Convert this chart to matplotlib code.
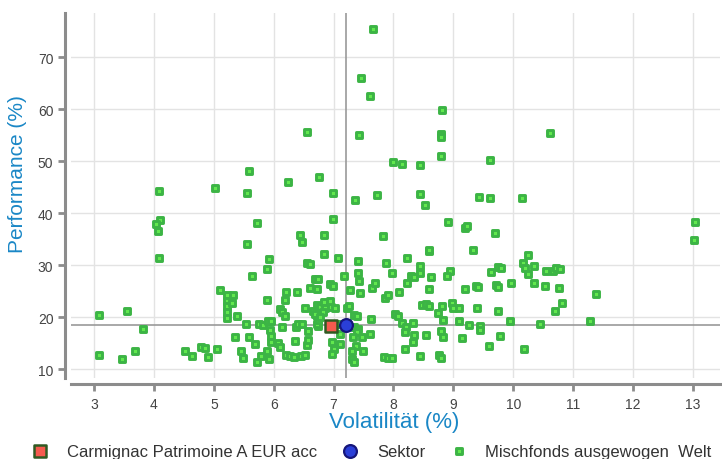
import matplotlib
matplotlib.use("Agg")
import matplotlib.pyplot as plt
import numpy as np

plt.rcParams['font.family'] = ['Liberation Sans', 'DejaVu Sans']

# peer funds (Volatilität %, Performance %)
peer_vol = [
    3.09, 3.55, 3.82, 3.09, 3.46, 3.68,
    4.09, 4.10, 4.04, 4.07, 4.09,
    4.52, 4.63, 4.78, 4.86, 4.90, 5.05, 5.02,
    5.10, 5.22, 5.22, 5.22, 5.22, 5.22, 5.32, 5.30, 5.39, 5.35, 5.46, 5.49,
    5.53, 5.58, 5.59, 5.55, 5.56, 5.64, 5.72,
    5.68, 5.72, 5.79, 5.75, 5.82, 5.88, 5.92, 5.91, 5.95, 5.94, 5.95, 5.96,
    5.89, 5.92, 5.89,
    6.07, 6.10, 6.20, 6.27, 6.34, 6.45, 6.52, 6.36, 6.14, 6.37, 6.41, 6.47,
    6.10, 6.13, 6.19, 6.19, 6.20, 6.39, 6.23, 6.44, 6.48,
    6.56, 6.57, 6.58, 6.74, 6.73, 6.73, 6.74, 6.52, 6.65, 6.69, 6.72, 6.77,
    6.84, 6.85, 6.82, 6.78, 6.95, 6.94, 7.03, 6.60, 6.72, 6.69, 6.74, 6.94,
    6.99, 6.55, 6.60, 6.84, 6.84, 6.99, 6.99, 6.76, 6.56, 6.97, 7.10, 7.10,
    7.01, 6.98, 7.09,
    7.22, 7.25, 7.34, 7.39, 7.62, 7.34, 7.40, 7.39, 7.32, 7.48, 7.60, 7.37,
    7.30, 7.49, 7.30, 7.34, 7.18, 7.40, 7.42, 7.28, 7.44, 7.08, 7.41, 7.36,
    7.43, 7.45, 7.61, 7.66,
    7.64, 7.69, 7.86, 7.91, 7.87, 7.82, 7.72, 7.84, 7.91, 7.98, 7.97, 8.02,
    8.08, 8.00,
    8.10, 8.15, 8.45, 8.45, 8.53, 8.22, 8.45, 8.44, 8.30, 8.35, 8.23, 8.14,
    8.21, 8.33, 8.20, 8.34, 8.32, 8.19, 8.44, 8.48,
    8.55, 8.59, 8.55, 8.59, 8.59, 8.62, 8.60, 8.81, 8.80, 8.80, 8.80, 8.91,
    8.94, 8.89, 8.81, 8.74, 8.82, 8.80, 8.82, 8.76, 8.79, 8.97,
    9.00, 9.09, 9.39, 9.09, 9.26, 9.45, 9.44, 9.14, 9.19, 9.23, 9.33, 9.42,
    9.19, 9.37, 9.41,
    9.61, 9.61, 9.69, 9.62, 9.75, 9.79, 9.71, 9.74, 9.96, 9.74, 9.95, 9.78,
    9.59,
    10.14, 10.62, 10.24, 10.17, 10.19, 10.24, 10.34, 10.55, 10.66, 10.71,
    10.78, 10.34, 10.53, 10.76, 10.81, 10.70, 10.45, 10.18, 11.29, 11.39,
    13.03, 13.02,
]
peer_perf = [
    20.4, 21.2, 17.7, 12.7, 11.9, 13.5,
    44.2, 38.7, 37.9, 36.5, 31.4,
    13.5, 12.5, 14.2, 14.1, 12.4, 14.0, 44.9,
    25.3, 24.2, 23.2, 22.2, 21.0, 19.9, 24.3, 22.7, 20.2, 16.2, 13.5, 12.1,
    18.7, 16.3, 48.1, 43.8, 34.1, 27.9, 38.2,
    14.9, 11.5, 12.6, 18.8, 18.6, 13.5, 12.0, 19.2, 19.3, 17.6, 16.4, 15.3,
    23.3, 31.2, 29.3,
    15.1, 14.2, 12.8, 12.6, 12.4, 12.6, 12.7, 15.4, 18.1, 18.2, 18.7, 18.8,
    21.6, 21.0, 20.2, 23.3, 24.9, 24.8, 46.0, 35.9, 34.5,
    14.7, 15.6, 17.3, 18.3, 18.8, 20.3, 19.4, 21.7, 21.2, 20.6, 22.3, 21.9,
    23.0, 21.8, 21.1, 20.0, 22.0, 23.1, 21.8, 25.6, 25.4, 27.3, 27.4, 26.4,
    26.0, 30.4, 30.3, 32.2, 35.8, 38.8, 43.8, 47.0, 55.6, 15.3, 16.8, 14.8,
    14.0, 12.9, 18.7,
    21.7, 22.1, 20.5, 20.3, 19.7, 18.1, 17.8, 17.2, 16.3, 16.2, 16.7, 14.4,
    13.5, 13.5, 11.9, 11.5, 28.0, 28.5, 27.0, 25.2, 24.6, 31.3, 30.8, 42.6,
    55.1, 66.0, 62.6, 75.4,
    25.6, 26.6, 23.8, 24.2, 30.4, 35.6, 43.4, 12.3, 12.2, 12.1, 28.5, 20.6,
    20.3, 49.9,
    24.9, 49.5, 49.2, 43.6, 41.5, 31.4, 29.9, 28.5, 28.0, 27.7, 26.6, 18.9,
    18.2, 19.0, 17.1, 16.6, 15.2, 14.0, 12.6, 22.4,
    22.6, 22.1, 16.6, 32.7, 33.0, 27.7, 25.4, 59.9, 55.2, 54.6, 51.0, 38.3,
    28.8, 28.0, 22.2, 20.8, 19.5, 17.4, 16.3, 12.8, 12.2, 22.7,
    21.7, 21.7, 21.7, 19.2, 18.5, 18.4, 17.6, 16.0, 37.2, 37.6, 33.0, 43.1,
    25.4, 26.1, 25.8,
    50.3, 42.9, 36.2, 28.7, 29.6, 29.4, 26.2, 25.9, 26.5, 21.2, 19.2, 16.5,
    14.5,
    42.9, 55.4, 32.0, 30.5, 29.4, 28.4, 29.8, 28.8, 28.9, 29.4,
    29.3, 26.5, 26.1, 25.7, 22.8, 21.2, 18.8, 14.0, 19.2, 24.5,
    38.3, 34.8,
]

fund_name = "Carmignac Patrimoine A EUR acc"
fund_vol, fund_perf = 6.96, 18.4
sector_vol, sector_perf = 7.20, 18.45
peer_label = "Mischfonds ausgewogen  Welt"

x_ticks = list(range(3, 14))
y_ticks = list(range(10, 80, 10))

label_blue = "#1a87c6"
spine_grey = "#8c8c8c"

fig = plt.figure(figsize=(7.22, 4.60), dpi=100)
ax = fig.add_axes([0.098, 0.176, 0.899, 0.794])

ax.set_xlim(2.61, 13.45)
ax.set_ylim(8.33, 78.5)
ax.set_xticks(x_ticks)
ax.set_yticks(y_ticks)
ax.grid(True, color="#e3e3e3", linewidth=1.0, zorder=0)
ax.set_axisbelow(True)

for s in ["top", "right"]:
    ax.spines[s].set_visible(False)
for s in ["left", "bottom"]:
    ax.spines[s].set_color(spine_grey)
    ax.spines[s].set_linewidth(2.2)
    ax.spines[s].set_position(("outward", 4))
ax.tick_params(axis="both", colors=spine_grey, width=2, length=5,
               labelcolor="#444444", labelsize=10)
ax.tick_params(axis="x", pad=5)

# reference lines through the sector average
ax.axvline(sector_vol, color="#999999", linewidth=1.2, zorder=1)
ax.axhline(sector_perf, color="#999999", linewidth=1.2, zorder=1)

peers = ax.scatter(peer_vol, peer_perf, marker="s", s=16, c="#62e84e",
                   edgecolors="#3cb445", linewidths=2.1, zorder=3,
                   label=peer_label)
fund = ax.scatter([fund_vol], [fund_perf], marker="s", s=70, c="#f55a4e",
                  edgecolors="#2f5a22", linewidths=1.8, zorder=5,
                  label=fund_name)
sector = ax.scatter([sector_vol], [sector_perf], marker="o", s=85,
                    c="#2a3fd8", edgecolors="#16167a", linewidths=1.6,
                    zorder=6, label="Sektor")

ax.set_xlabel("Volatilität (%)", color=label_blue, fontsize=16)
ax.xaxis.set_label_coords(0.499, -0.09)
ax.set_ylabel("Performance (%)", color=label_blue, fontsize=15)
ax.yaxis.set_label_coords(-0.067, 0.56)

fig.legend(handles=[fund, sector, peers], loc="center", ncol=3,
           frameon=False, fontsize=12, bbox_to_anchor=(0.515, 0.017),
           handlelength=1.0, handletextpad=1.1, columnspacing=1.5,
           labelcolor="#333333", borderpad=0.2)

fig.savefig("out.png", dpi=100)
